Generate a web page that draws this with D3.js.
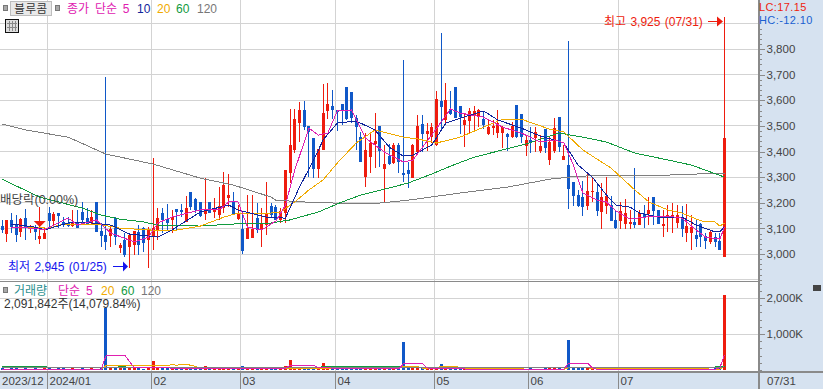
<!DOCTYPE html>
<html><head><meta charset="utf-8">
<script src="https://cdn.jsdelivr.net/npm/d3@7"></script>
<style>html,body{margin:0;padding:0;background:#fff;overflow:hidden}svg{display:block}text{font-family:"Liberation Sans","Noto Sans CJK KR",sans-serif}</style>
</head><body><div id="c"></div>
<script>
const opens=[3109,3078,3133,3116,3087,3139,3098,3100,3059,3059,3159,3130,3159,3124,3122,3109,3120,3165,3139,3122,3202,3090,3074,3070,3139,3022,3055,3029,3035,3087,3100,3055,3065,3094,3159,3135,3133,3174,3172,3126,3241,3215,3204,3156,3204,3163,3152,3178,3217,3204,3135,3098,3059,3064,3142,3096,3113,3187,
3185,3133,3159,3317,3406,3510,3562,3499,3454,3332,3406,3558,3577,3562,3585,3650,3632,3529,3455,3302,3380,3429,3499,3332,3382,3354,3425,3315,3328,3298,3399,3507,3468,3458,3425,3597,3523,3564,3650,3577,3503,3519,3540,3540,3527,3468,3493,3473,3473,3468,3458,3581,3546,3423,3445,3454,3402,3488,3367,
3402,3534,3367,3347,3280,3230,3221,3189,3242,3241,3165,3187,3191,3133,3130,3117,3117,3124,3113,3155,3156,3221,3172,3117,3139,3139,3120,3143,3083,3083,3074,3116,3070,3046,3065,3051,2990];
const closes=[3094,3133,3107,3074,3135,3107,3107,3087,3070,3083,3129,3155,3148,3113,3111,3120,3103,3133,3117,3143,3087,3070,3048,3096,3068,3035,2996,3074,3090,3035,3042,3096,3100,3139,3133,3120,3143,3163,3165,3178,3182,3172,3148,3174,3161,3172,3187,3269,3230,3156,3161,3013,3103,3099,3094,3120,3159,3152,
3133,3169,3328,3425,3527,3562,3497,3477,3332,3408,3549,3585,3562,3555,3562,3525,3529,3497,3358,3406,3432,3441,3403,3351,3351,3425,3360,3311,3312,3425,3499,3468,3480,3497,3605,3575,3601,3546,3532,3536,3523,3558,3558,3562,3503,3497,3501,3512,3497,3458,3499,3458,3455,3445,3434,3475,3421,3415,3438,
3490,3419,3382,3254,3228,3189,3185,3246,3246,3168,3221,3228,3129,3100,3168,3159,3124,3113,3159,3139,3172,3168,3117,3117,3152,3152,3152,3098,3109,3104,3059,3068,3052,3085,3048,3016,3451];
const highs=[3133,3133,3159,3152,3139,3176,3113,3113,3182,3107,3182,3165,3159,3143,3143,3172,3172,3204,3178,3172,3204,3120,3690,3113,3146,3042,3081,3074,3090,3113,3107,3107,3373,3178,3178,3195,3172,3174,3195,3226,3243,3217,3204,3295,3204,3217,3263,3319,3312,3243,3191,3152,3230,3230,3198,3178,3282,3198,
3191,3178,3328,3566,3566,3592,3597,3499,3454,3408,3663,3666,3640,3562,3585,3650,3632,3542,3477,3471,3471,3549,3499,3425,3429,3432,3432,3757,3360,3429,3542,3542,3513,3513,3636,3861,3666,3636,3650,3577,3546,3568,3577,3564,3555,3523,3523,3562,3499,3473,3516,3581,3546,3464,3497,3494,3464,3488,3458,
3530,3534,3425,3831,3280,3250,3286,3315,3302,3276,3276,3299,3226,3172,3204,3215,3172,3334,3172,3191,3224,3221,3172,3172,3191,3200,3191,3187,3195,3152,3133,3120,3081,3094,3081,3081,3925];
const lows=[3081,3048,3081,3048,3065,3055,3081,3055,3039,3059,3107,3100,3100,3107,3107,3107,3103,3117,3113,3117,3087,3029,3016,3029,3035,3003,2987,2945,2996,2996,3009,2945,3016,3055,3081,3094,3081,3094,3146,3126,3172,3159,3146,3133,3159,3139,3133,3159,3185,3152,3133,2999,3057,3061,3081,3026,3074,3143,
3133,3120,3120,3276,3393,3438,3484,3299,3298,3295,3406,3525,3525,3481,3503,3523,3510,3406,3358,3263,3317,3337,3341,3200,3347,3351,3315,3280,3259,3298,3399,3399,3403,3432,3423,3484,3510,3542,3529,3468,3419,3473,3477,3497,3486,3464,3464,3451,3412,3403,3451,3454,3432,3382,3395,3399,3393,3395,3347,
3395,3400,3367,3175,3189,3185,3150,3172,3204,3150,3099,3156,3129,3098,3098,3098,3098,3100,3113,3103,3113,3113,3117,3068,3085,3081,3100,3068,3048,3016,3029,3029,3018,3039,3026,3016,2990];
const volumes=[60,30,60,60,30,60,30,60,30,60,60,30,60,60,30,60,30,60,30,60,30,65,1722,70,75,80,70,60,75,60,30,60,250,60,70,60,30,80,60,30,60,30,60,100,60,30,60,60,30,60,30,100,60,30,60,60,30,60,
60,30,100,280,60,75,30,75,60,60,200,60,75,60,75,60,60,30,60,30,60,60,30,60,60,30,60,780,70,75,60,70,60,75,90,170,70,60,75,60,60,30,60,60,60,30,60,60,30,30,60,30,60,30,60,30,30,60,60,
70,60,30,830,70,70,70,70,30,60,30,75,70,75,30,75,30,30,60,30,60,30,60,30,60,60,60,30,60,60,30,60,30,30,60,80,2092];

const ma5=[[2,3105],[7,3100],[9,3094],[14,3140],[16,3113],[20,3133],[23,3082],[28,3047],[31,3066],[33,3121],[36,3144],[42,3172],[46,3172],[48,3203],[50,3203],[52,3105],[55,3094],[58,3129],[60,3190],[62,3328],[65,3491],[67,3464],[69,3472],[71,3558],[74,3562],[77,3452],[81,3398],[85,3359],[87,3367],[91,3464],[95,3566],[97,3550],[102,3534],[106,3495],[110,3472],[114,3437],[117,3445],[119,3433],[121,3347],[123,3238],[126,3211],[128,3203],[130,3168],[133,3136],[136,3144],[141,3148],[144,3140],[147,3094],[149,3066],[152,3058],[153,3105]];
const ma10=[[2,3117],[7,3105],[9,3094],[14,3121],[17,3125],[23,3113],[27,3078],[33,3066],[36,3094],[42,3164],[48,3191],[50,3172],[56,3144],[60,3140],[63,3261],[66,3367],[68,3445],[71,3511],[75,3519],[79,3484],[82,3417],[85,3382],[87,3386],[91,3425],[94,3511],[97,3530],[102,3558],[105,3523],[110,3491],[114,3460],[117,3445],[119,3433],[122,3347],[125,3300],[128,3230],[130,3191],[133,3183],[135,3160],[139,3144],[144,3144],[147,3113],[151,3086],[152,3086],[153,3105]];
const ma20=[[2,3105],[10,3101],[13,3117],[20,3117],[25,3101],[31,3094],[36,3090],[42,3109],[47,3144],[50,3160],[57,3160],[59,3164],[62,3203],[65,3250],[68,3289],[71,3355],[75,3433],[79,3484],[85,3456],[88,3449],[92,3433],[97,3456],[102,3495],[106,3526],[110,3526],[116,3487],[119,3476],[123,3406],[129,3335],[134,3250],[137,3203],[141,3172],[144,3160],[148,3129],[151,3125],[152,3109],[153,3121]];
const ma60=[[0,3292],[4,3257],[8,3222],[12,3203],[17,3179],[21,3152],[25,3136],[30,3125],[33,3113],[42,3109],[49,3117],[57,3121],[61,3133],[67,3164],[72,3203],[76,3230],[81,3253],[86,3277],[91,3312],[95,3343],[100,3378],[106,3406],[111,3429],[116,3460],[118,3472],[123,3456],[128,3437],[134,3394],[141,3367],[146,3347],[153,3300]];
const ma120=[[0,3507],[5,3484],[14,3456],[22,3390],[32,3351],[42,3296],[49,3269],[57,3222],[58,3210],[64,3203],[70,3199],[80,3199],[86,3210],[97,3238],[107,3261],[116,3292],[122,3304],[141,3308],[153,3316]];
const volMa5=[[0,20],[21,20],[22,390],[25,390],[26,417],[28,60],[60,40],[61,130],[66,130],[67,60],[84,30],[85,170],[86,185],[89,185],[90,60],[91,30],[119,20],[120,190],[124,190],[125,60],[126,20],[151,20],[152,60],[153,420]];
const volMa20=[[0,25],[21,25],[22,120],[35,120],[36,155],[37,130],[38,160],[39,160],[40,130],[41,100],[42,50],[84,50],[85,100],[88,100],[89,50],[92,60],[93,110],[96,110],[97,50],[115,20],[119,20],[120,60],[152,25],[153,110]];
const volMa60=[[0,100],[9,100],[10,60],[22,70],[26,90],[27,60],[67,60],[68,100],[84,100],[85,60],[140,60],[141,70],[150,70],[153,110]];
const volMa120=[[0,65],[152,65],[153,90]];

const monthLabels=["2023/12","2024/01","02","03","04","05","06","07"];
const monthStarts=[0,10,32,51,71,92,112,131];
const priceTicks=[3000,3100,3200,3300,3400,3500,3600,3700,3800];
const volTicks=[1000,2000];

const W=823,H=389,axisX=758,bottomY=372;
const RED="#ee1c0e",BLUE="#1058c8",GRID="#d3d3d3",AX="#8a8a8a",PANEL="#d6e2f0",TXT="#444";
const x=d3.scaleLinear().domain([0,153]).range([2,724.5]);
const y=d3.scaleLinear().domain([3000,3800]).range([254,49]);
const yv=d3.scaleLinear().domain([0,2000]).range([370,298]);
const svg=d3.select("#c").append("svg").attr("width",W).attr("height",H);
svg.append("rect").attr("width",W).attr("height",H).attr("fill","#fff");
const px=v=>Math.floor(v)+.5;
const gx=i=>px(x(i)-2);

// grid
const gridG=svg.append("g").attr("shape-rendering","crispEdges").attr("stroke",GRID);
gridG.selectAll(".h").data(d3.range(2900,4000,100)).join("line").attr("x1",0).attr("x2",axisX).attr("y1",d=>px(y(d))).attr("y2",d=>px(y(d)));
gridG.selectAll(".hv").data(volTicks).join("line").attr("class","hv").attr("x1",0).attr("x2",axisX).attr("y1",d=>px(yv(d))).attr("y2",d=>px(yv(d)));
gridG.selectAll(".v").data(monthStarts.slice(1)).join("line").attr("class","v").attr("x1",gx).attr("x2",gx).attr("y1",0).attr("y2",bottomY);
svg.append("line").attr("x1",0).attr("x2",axisX).attr("y1",281.5).attr("y2",281.5).attr("stroke",AX).attr("shape-rendering","crispEdges");

// candles
const idx=d3.range(opens.length);
const col=i=>closes[i]>=opens[i]?RED:BLUE;
const cg=svg.append("g").attr("shape-rendering","crispEdges");
cg.selectAll(".w").data(idx).join("line").attr("x1",i=>px(x(i))).attr("x2",i=>px(x(i))).attr("y1",i=>y(highs[i])).attr("y2",i=>y(lows[i])).attr("stroke",col);
cg.selectAll(".b").data(idx).join("rect").attr("class","b").attr("x",i=>Math.floor(x(i))-1).attr("width",3)
  .attr("y",i=>y(Math.max(opens[i],closes[i]))).attr("height",i=>Math.max(1.5,Math.abs(y(opens[i])-y(closes[i])))).attr("fill",col);

// price MAs
const line=d3.line().x(d=>x(d[0])).y(d=>y(d[1]));
[[ma120,"#7f7f7f"],[ma60,"#119a3e"],[ma20,"#f0aa00"],[ma10,"#10259c"],[ma5,"#e020b0"]].forEach(([d,c])=>{
  svg.append("path").attr("d",line(d)).attr("fill","none").attr("stroke",c).attr("stroke-width",1).attr("shape-rendering","crispEdges");
});

// volume
const vg=svg.append("g").attr("shape-rendering","crispEdges");
vg.selectAll("rect").data(idx).join("rect").attr("x",i=>Math.floor(x(i))-1).attr("width",3)
 .attr("y",i=>yv(volumes[i])).attr("height",i=>Math.max(1,370-yv(volumes[i]))).attr("fill",col);
const vline=d3.line().x(d=>x(d[0])).y(d=>yv(d[1]));
[[volMa20,"#f0aa00"],[volMa60,"#119a3e"],[volMa120,"#7f7f7f"],[volMa5,"#e020b0"]].forEach(([d,c])=>{
  svg.append("path").attr("d",vline(d)).attr("fill","none").attr("stroke",c).attr("stroke-width",1).attr("shape-rendering","crispEdges");
});

// right panel
svg.append("rect").attr("x",axisX).attr("width",W-axisX).attr("height",H).attr("fill",PANEL);
svg.append("rect").attr("y",bottomY).attr("width",W).attr("height",H-bottomY).attr("fill",PANEL);
const styleAxis=g=>{g.select(".domain").remove();g.selectAll("line").attr("stroke",AX).attr("shape-rendering","crispEdges");
  g.selectAll("text").attr("fill",TXT).style("font-size","11.5px");};
svg.append("g").attr("transform",`translate(${axisX+.5},0)`).call(d3.axisRight(y).tickValues(d3.range(2900,3960,20)).tickSize(3).tickFormat("")).call(styleAxis);
svg.append("g").attr("transform",`translate(${axisX+.5},0)`).call(d3.axisRight(y).tickValues(priceTicks).tickSize(6).tickPadding(2).tickFormat(d3.format(","))).call(styleAxis);
svg.append("g").attr("transform",`translate(${axisX+.5},0)`).call(d3.axisRight(yv).tickValues(d3.range(0,2480,200)).tickSize(3).tickFormat("")).call(styleAxis);
svg.append("g").attr("transform",`translate(${axisX+.5},0)`).call(d3.axisRight(yv).tickValues(volTicks).tickSize(6).tickPadding(2).tickFormat(d=>d3.format(",")(d)+"K")).call(styleAxis);
svg.append("rect").attr("x",axisX).attr("y",0).attr("width",W-axisX).attr("height",25.5).attr("fill",PANEL);
svg.append("rect").attr("x",axisX).attr("width",2).attr("height",H).attr("fill",AX);
svg.append("rect").attr("y",bottomY-1).attr("width",W).attr("height",2).attr("fill",AX);
const t=(s,xx,yy,c,size=12,anchor="start")=>svg.append("text").attr("x",xx).attr("y",yy).attr("fill",c).attr("font-size",size).attr("text-anchor",anchor).text(s);
t("LC:17.15",759,11,"#ee1c0e",11).attr("letter-spacing",.4);
t("HC:-12.10",759,23.5,"#1a5fd0",11).attr("letter-spacing",.4);

// bottom axis labels + ticks
monthStarts.forEach((m,k)=>{
  if(k>0) svg.append("line").attr("x1",gx(m)).attr("x2",gx(m)).attr("y1",bottomY).attr("y2",H).attr("stroke",AX).attr("shape-rendering","crispEdges");
  t(monthLabels[k],k===0?2:gx(m)+2,385,TXT,11.5);
});
t("07/31",767,385,TXT,11.5);

// legend top
svg.append("rect").attr("x",3.5).attr("y",5.5).attr("width",4).attr("height",5).attr("fill","#a8a8a8").attr("stroke","#777");
svg.append("rect").attr("x",10.5).attr("y",1.5).attr("width",41).attr("height",14).attr("fill","#e9e9e9").attr("stroke","#bdbdbd");
t("블루콤",31,13,"#333",11.5,"middle").attr("letter-spacing",.6);
svg.append("rect").attr("x",55.5).attr("y",5.5).attr("width",4).attr("height",5).attr("fill","#a8a8a8").attr("stroke","#777");
t("종가 단순 5",67,13,"#e020b0",12).attr("word-spacing",2.5);
t("10",137,13,"#10259c",12);
t("20",157,13,"#f0aa00",12);
t("60",176,13,"#119a3e",12);
t("120",197,13,"#777",12);
// table icon
svg.append("rect").attr("x",5.5).attr("y",19.5).attr("width",13).attr("height",13).attr("fill","#ddd").attr("stroke","#111");
[9.5,12.5,15.5].forEach(v=>svg.append("line").attr("x1",v).attr("x2",v).attr("y1",21).attr("y2",31).attr("stroke","#888"));
[23.5,27.5].forEach(v=>svg.append("line").attr("x1",7).attr("x2",17).attr("y1",v).attr("y2",v).attr("stroke","#888"));

// annotations
t("배당락(0.00%)",0,204,"#444",12.5);
const i8=x(8);
svg.append("path").attr("d",`M${i8-6},${221}L${i8+6},${221}L${i8},${227}Z`).attr("fill",RED);
t("최저 2,945 (01/25)",8,271,"#1414ee",12).attr("word-spacing",1);
svg.append("line").attr("x1",113).attr("x2",124).attr("y1",266.5).attr("y2",266.5).attr("stroke","#1414ee");
svg.append("path").attr("d","M123,261.5L123,271.5L128,266.5Z").attr("fill","#1414ee");
t("최고 3,925 (07/31)",604,26,RED,12).attr("word-spacing",1);
svg.append("line").attr("x1",708).attr("x2",718).attr("y1",21.5).attr("y2",21.5).attr("stroke",RED);
svg.append("path").attr("d","M717,16.5L717,26.5L723,21.5Z").attr("fill",RED);

// volume legend
svg.append("rect").attr("x",3.5).attr("y",287.5).attr("width",4).attr("height",5).attr("fill","#a8a8a8").attr("stroke","#777");
t("거래량",14,295,"#2b9090",12);
t("단순 5",58,295,"#e020b0",12).attr("word-spacing",2.5);
t("20",101,295,"#f0aa00",12);
t("60",121,295,"#119a3e",12);
t("120",141,295,"#777",12);
t("2,091,842주(14,079.84%)",4,308,"#333",12);
svg.append("rect").attr("x",813).attr("y",285).attr("width",8).attr("height",6).attr("fill","#444");
</script></body></html>
